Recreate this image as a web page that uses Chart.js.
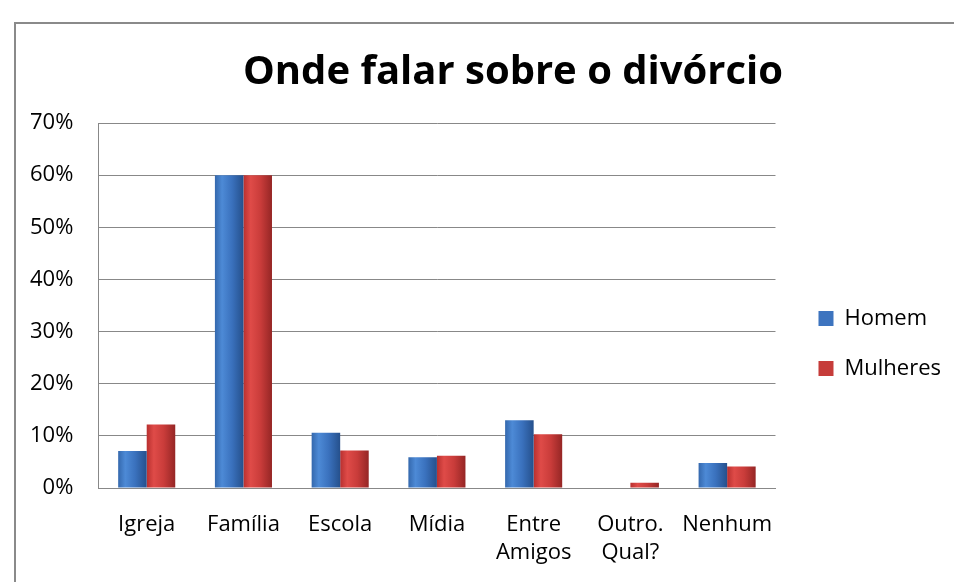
<!DOCTYPE html>
<html>
<head>
<meta charset="utf-8">
<script src="https://cdn.jsdelivr.net/npm/chart.js@4/dist/chart.umd.min.js"></script>
<style>
  html, body { margin: 0; padding: 0; background: #fff; overflow: hidden; }
  #frame { position: absolute; left: 14px; top: 22px; width: 1000px; height: 700px;
           border-left: 2px solid #8a8a8a; border-top: 2px solid #8a8a8a; }
  #wrap { position: absolute; left: 0; top: 0; width: 954px; height: 582px; }
</style>
</head>
<body>
<div id="frame"></div>
<div id="wrap"><canvas id="myChart" width="954" height="582"></canvas></div>
<script>
// data
const categories = ['Igreja', 'Família', 'Escola', 'Mídia', ['Entre', 'Amigos'], ['Outro.', 'Qual?'], 'Nenhum'];
const homem = [7.1, 60, 10.6, 5.9, 13.0, 0, 4.8];
const mulheres = [12.2, 60, 7.2, 6.2, 10.3, 1.0, 4.1];
const yTicks = [0, 10, 20, 30, 40, 50, 60, 70];

const FONT = "'Open Sans', sans-serif";
const CAT_PCT = 0.59;

// horizontal shading so bars look a bit like the excel 3d bevel
function barShade(dark, light, mid, edge, side) {
  return function (ctx) {
    const chart = ctx.chart;
    const xs = chart.scales.x;
    if (!xs || !chart.chartArea || ctx.dataIndex == null) return mid;
    const catW = xs.width / categories.length;
    const barW = catW * CAT_PCT / 2;
    const c = xs.getPixelForValue(ctx.dataIndex);
    const left = side === 0 ? c - barW : c;
    const g = chart.ctx.createLinearGradient(left, 0, left + barW, 0);
    g.addColorStop(0, dark);
    g.addColorStop(0.25, light);
    g.addColorStop(0.6, mid);
    g.addColorStop(1, edge);
    return g;
  };
}

// excel centres the title over the whole chart incl. legend, nudge it right
const titleShift = {
  id: 'titleShift',
  afterLayout: function (chart) {
    const t = chart.titleBlock;
    if (t) { t.left += 35; t.right += 35; }
  }
};

const data = {
  labels: categories,
  datasets: [{
    label: 'Homem',
    data: homem,
    backgroundColor: barShade('#3468ad', '#4d8ad6', '#3a71bd', '#25508c', 0),
    legendColor: '#3d74bf',
    borderWidth: 0
  }, {
    label: 'Mulheres',
    data: mulheres,
    backgroundColor: barShade('#b8302f', '#df4b48', '#c93c3a', '#952625', 1),
    legendColor: '#c63c3a',
    borderWidth: 0
  }]
};

const config = {
  type: 'bar',
  data: data,
  plugins: [titleShift],
  options: {
    responsive: false,
    animation: false,
    layout: { padding: { left: 5, right: 3, top: 0, bottom: -8 } },
    datasets: { bar: { barPercentage: 1, categoryPercentage: CAT_PCT } },
    plugins: {
      title: {
        display: true,
        text: 'Onde falar sobre o divórcio',
        color: '#000',
        font: { family: FONT, size: 40, weight: 'bold', lineHeight: 1.2 },
        padding: { top: 49, bottom: 26 }
      },
      legend: {
        position: 'right',
        fullSize: false,
        maxWidth: 300,
        title: { display: true, text: ' ', font: { size: 12, lineHeight: 1 }, padding: { top: 64, bottom: 0 } },
        labels: {
          color: '#000',
          boxWidth: 15,
          boxHeight: 15,
          padding: 28,
          font: { family: FONT, size: 22 },
          generateLabels: function (chart) {
            return chart.data.datasets.map(function (ds, i) {
              return { text: ds.label, fillStyle: ds.legendColor, strokeStyle: ds.legendColor,
                       lineWidth: 0, fontColor: '#000', datasetIndex: i, hidden: false };
            });
          }
        }
      },
      tooltip: { enabled: false }
    },
    scales: {
      x: {
        grid: { display: false, drawTicks: false },
        border: { display: true, color: '#888', width: 1 },
        ticks: { color: '#000', padding: 23, maxRotation: 0, autoSkip: false,
                 font: { family: FONT, size: 22, lineHeight: 28 / 22 } }
      },
      y: {
        min: 0,
        max: 70,
        afterBuildTicks: function (axis) { axis.ticks = yTicks.map(function (v) { return { value: v }; }); },
        grid: { color: '#888', lineWidth: 1, drawTicks: false },
        border: { display: true, color: '#888', width: 1 },
        ticks: { color: '#000', padding: 25, font: { family: FONT, size: 22 },
                 callback: function (v) { return v + '%'; } }
      },
      gap: {
        type: 'linear',
        position: 'right',
        display: true,
        afterFit: function (axis) { axis.width = 15; },
        grid: { display: false, drawTicks: false },
        border: { display: false },
        ticks: { display: false }
      }
    }
  }
};

const myChart = new Chart(document.getElementById('myChart'), config);
</script>
</body>
</html>
